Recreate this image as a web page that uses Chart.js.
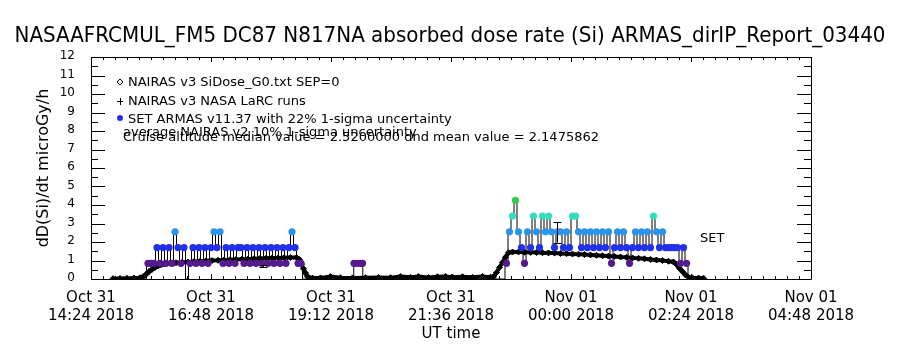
<!DOCTYPE html>
<html>
<head>
<meta charset="utf-8">
<script src="https://cdn.jsdelivr.net/npm/chart.js@4.4.1/dist/chart.umd.min.js"></script>
<style>
  html, body { margin: 0; padding: 0; background: #fff; }
</style>
</head>
<body>
<canvas id="doseChart" width="900" height="350"></canvas>
<script>
const titleText = 'NASAAFRCMUL_FM5 DC87 N817NA absorbed dose rate (Si) ARMAS_dirIP_Report_03440';

// x axis is hours since Oct 31 00:00 UT
const xTickValues = [14.4, 16.8, 19.2, 21.6, 24.0, 26.4, 28.8];
const xTickDates = ['Oct 31', 'Oct 31', 'Oct 31', 'Oct 31', 'Nov 01', 'Nov 01', 'Nov 01'];
const xTickTimes = ['14:24 2018', '16:48 2018', '19:12 2018', '21:36 2018', '00:00 2018', '02:24 2018', '04:48 2018'];

// NAIRAS v3 SiDose model (black diamonds)
const nairasTime = [
  14.84, 14.98, 15.12, 15.26, 15.38, 15.44, 15.50, 15.56, 15.62, 15.68, 15.74, 15.80, 15.86,
  15.98, 16.10, 16.22, 16.34, 16.46, 16.58, 16.70, 16.82, 16.94, 17.06, 17.18, 17.30, 17.42,
  17.54, 17.66, 17.78, 17.90, 18.02, 18.14, 18.26, 18.39, 18.51, 18.57, 18.61, 18.65, 18.69,
  18.73, 18.77, 18.83,
  18.99, 19.19, 19.39, 19.63, 19.89, 20.15, 20.39, 20.59, 20.79, 20.95, 21.15, 21.33, 21.49,
  21.63, 21.83, 22.03, 22.23, 22.39,
  22.45, 22.51, 22.57, 22.63, 22.69, 22.75, 22.83, 22.95, 23.07, 23.19, 23.31, 23.43, 23.55,
  23.67, 23.79, 23.91, 24.03, 24.15, 24.27, 24.39, 24.51, 24.63, 24.75, 24.87, 24.99, 25.11,
  25.23, 25.35, 25.47, 25.59, 25.71, 25.83, 25.95, 26.05, 26.11, 26.17, 26.23, 26.29, 26.35,
  26.43, 26.55, 26.65
];
const nairasDose = [
  0.02, 0.03, 0.04, 0.05, 0.07, 0.12, 0.25, 0.40, 0.52, 0.62, 0.70, 0.77, 0.82,
  0.86, 0.88, 0.90, 0.92, 0.94, 0.96, 0.98, 1.00, 1.01, 1.03, 1.04, 1.06, 1.07,
  1.08, 1.10, 1.11, 1.12, 1.13, 1.14, 1.15, 1.16, 1.16, 1.05, 0.80, 0.55, 0.32,
  0.14, 0.06, 0.05,
  0.06, 0.13, 0.07, 0.06, 0.07, 0.08, 0.07, 0.14, 0.09, 0.13, 0.08, 0.12, 0.14,
  0.10, 0.12, 0.09, 0.14, 0.10,
  0.12, 0.35, 0.62, 0.90, 1.18, 1.42, 1.46, 1.46, 1.45, 1.44, 1.43, 1.42, 1.41,
  1.40, 1.38, 1.37, 1.35, 1.34, 1.32, 1.30, 1.28, 1.26, 1.24, 1.22, 1.19, 1.17,
  1.14, 1.12, 1.09, 1.06, 1.03, 1.00, 0.96, 0.92, 0.78, 0.58, 0.40, 0.22, 0.10,
  0.06, 0.05, 0.04
];

// SET ARMAS measurements (coloured dots joined by a thin line)
const armasTime = [
  15.48, 15.54, 15.60, 15.66, 15.72, 15.78, 15.84, 15.90, 15.96, 16.02, 16.08, 16.14, 16.20,
  16.26, 16.32, 16.38, 16.44, 16.50, 16.56, 16.62, 16.68, 16.74, 16.80, 16.86, 16.92, 16.98,
  17.04, 17.10, 17.16, 17.22, 17.28, 17.34, 17.40, 17.46, 17.52, 17.58, 17.64, 17.70, 17.76,
  17.82, 17.88, 17.94, 18.00, 18.06, 18.12, 18.18, 18.24, 18.30, 18.36, 18.42, 18.48, 18.54,
  18.60, 18.66,
  19.65, 19.66, 19.72, 19.78, 19.83, 19.84,
  22.65, 22.71, 22.77, 22.83, 22.89, 22.95, 23.01, 23.07, 23.13, 23.19, 23.25, 23.31, 23.37,
  23.43, 23.49, 23.55, 23.61, 23.67, 23.73, 23.79, 23.85, 23.91, 23.97, 24.03, 24.09, 24.15,
  24.21, 24.27, 24.33, 24.39, 24.45, 24.51, 24.57, 24.63, 24.69, 24.75, 24.81, 24.87, 24.93,
  24.99, 25.05, 25.11, 25.17, 25.23, 25.29, 25.35, 25.41, 25.47, 25.53, 25.59, 25.65, 25.71,
  25.77, 25.83, 25.89, 25.95, 26.01, 26.07, 26.13, 26.19, 26.25, 26.31, 26.37
];
const armasDose = [
  0, 0.85, 0.85, 0.85, 1.7, 0.85, 1.7, 0.85, 1.7, 0.85, 2.55, 1.7, 0.85,
  1.7, 0, 0.85, 1.7, 0.85, 1.7, 0.85, 1.7, 0.85, 1.7, 2.55, 1.7, 2.55,
  0.85, 1.7, 0.85, 1.7, 0.85, 1.7, 1.7, 0.85, 1.7, 0.85, 1.7, 0.85, 1.7,
  0.85, 1.7, 0.85, 1.7, 0.85, 1.7, 0.85, 1.7, 0.85, 1.7, 2.55, 1.7, 0.85,
  0.85, 0,
  0, 0.85, 0.85, 0.85, 0.85, 0,
  0, 0.85, 2.55, 3.4, 4.25, 2.55, 1.7, 0.85, 2.55, 1.7, 3.4, 2.55, 1.7,
  3.4, 2.55, 3.4, 2.55, 1.7, 2.55, 2.55, 1.7, 2.55, 1.7, 3.4, 3.4, 2.55,
  1.7, 2.55, 1.7, 2.55, 1.7, 2.55, 1.7, 2.55, 1.7, 2.55, 0.85, 1.7, 2.55,
  1.7, 2.55, 1.7, 0.85, 1.7, 2.55, 1.7, 2.55, 1.7, 2.55, 1.7, 3.4, 2.55,
  1.7, 2.55, 1.7, 1.7, 1.7, 1.7, 1.7, 0.85, 1.7, 0.85, 0
];

// dose levels and the colour used for each
const doseLevels = [0.85, 1.7, 2.55, 3.4, 4.25];
const levelColors = ['#561a8e', '#2030ec', '#2a94ec', '#34dcc2', '#30cc4c'];

// error bars: time, centre, half width
const errTime = [17.84, 23.71];
const errMid = [0.70, 2.52];
const errHalf = [0.07, 0.55];

const legendLines = [
  'NAIRAS v3 SiDose_G0.txt SEP=0',
  'NAIRAS v3 NASA LaRC runs',
  'SET ARMAS v11.37 with 22% 1-sigma uncertainty',
  'average NAIRAS v2 10% 1-sigma uncertainty',
  'Cruise altitude median value = 2.5200000 dnd mean value = 2.1475862'
];

const fontFam = "'DejaVu Sans', sans-serif";
Chart.defaults.font.family = fontFam;
Chart.defaults.color = '#000';

function levelColor(v) {
  let best = 0;
  for (let i = 1; i < doseLevels.length; i++) {
    if (Math.abs(v - doseLevels[i]) < Math.abs(v - doseLevels[best])) best = i;
  }
  return levelColors[best];
}

// IDL style box with inward ticks, title, legend text and error bars
const idlFrame = {
  id: 'idlFrame',
  afterDraw(chart) {
    const {ctx, chartArea: a, scales: {x, y}} = chart;
    const px = v => Math.round(v) + 0.5;
    ctx.save();
    ctx.strokeStyle = '#000';
    ctx.lineWidth = 1;
    ctx.beginPath();
    ctx.rect(px(a.left), px(a.top), Math.round(a.right - a.left), Math.round(a.bottom - a.top));
    // x ticks, 10 minor per major
    const xStep = (xTickValues[1] - xTickValues[0]) / 10;
    for (let i = 0; i <= 60; i++) {
      const xp = px(x.getPixelForValue(xTickValues[0] + i * xStep));
      const len = i % 10 === 0 ? 5 : 3;
      ctx.moveTo(xp, a.bottom); ctx.lineTo(xp, a.bottom - len);
      ctx.moveTo(xp, a.top); ctx.lineTo(xp, a.top + len);
    }
    // y ticks, 1 minor per major
    for (let i = 0; i <= 24; i++) {
      const yp = px(y.getPixelForValue(i * 0.5));
      const len = i % 2 === 0 ? 14 : 7;
      ctx.moveTo(a.left, yp); ctx.lineTo(a.left + len, yp);
      ctx.moveTo(a.right, yp); ctx.lineTo(a.right - len, yp);
    }
    ctx.stroke();

    // error bars
    ctx.beginPath();
    errTime.forEach((t, i) => {
      const xp = px(x.getPixelForValue(t));
      const y1 = y.getPixelForValue(errMid[i] + errHalf[i]);
      const y2 = y.getPixelForValue(errMid[i] - errHalf[i]);
      ctx.moveTo(xp, y1); ctx.lineTo(xp, y2);
      ctx.moveTo(xp - 4, px(y1)); ctx.lineTo(xp + 4, px(y1));
      ctx.moveTo(xp - 4, px(y2)); ctx.lineTo(xp + 4, px(y2));
    });
    ctx.stroke();

    // title, squeezed to the reference width
    ctx.fillStyle = '#000';
    ctx.textAlign = 'center';
    ctx.textBaseline = 'middle';
    ctx.font = '22px ' + fontFam;
    ctx.fillText(titleText, chart.width / 2, 36, 871);

    // legend
    ctx.textAlign = 'left';
    ctx.textBaseline = 'alphabetic';
    ctx.font = '13px ' + fontFam;
    const lx = a.left + 37;
    ctx.fillText(legendLines[0], lx, 86);
    ctx.fillText(legendLines[1], lx, 105);
    ctx.fillText(legendLines[2], lx, 123);
    ctx.fillText(legendLines[3], lx - 5, 136);
    ctx.fillText(legendLines[4], lx - 5, 141);
    const sx = a.left + 29;
    ctx.beginPath();
    ctx.moveTo(sx, 79); ctx.lineTo(sx + 3, 82); ctx.lineTo(sx, 85); ctx.lineTo(sx - 3, 82); ctx.closePath();
    ctx.moveTo(sx - 3, 101.5); ctx.lineTo(sx + 3, 101.5);
    ctx.moveTo(sx + 0.5, 98); ctx.lineTo(sx + 0.5, 105);
    ctx.stroke();
    ctx.fillStyle = levelColors[1];
    ctx.beginPath();
    ctx.arc(sx, 118, 3, 0, Math.PI * 2);
    ctx.fill();

    // series label
    ctx.fillStyle = '#000';
    ctx.fillText('SET', x.getPixelForValue(26.58), y.getPixelForValue(2.0));
    ctx.restore();
  }
};

new Chart(document.getElementById('doseChart'), {
  type: 'line',
  data: {
    datasets: [
      {
        label: 'SET ARMAS',
        order: 0,
        data: armasTime.map((t, i) => ({x: t, y: armasDose[i]})),
        borderColor: '#000',
        borderWidth: 1,
        stepped: 'middle',
        pointRadius: c => (c.raw && c.raw.y > 0 ? 3.6 : 0),
        pointBackgroundColor: c => levelColor(c.raw ? c.raw.y : 0),
        pointBorderWidth: 0,
        pointHoverRadius: 0
      },
      {
        label: 'NAIRAS v3',
        order: 1,
        data: nairasTime.map((t, i) => ({x: t, y: nairasDose[i]})),
        borderColor: '#000',
        borderWidth: 4,
        tension: 0,
        pointStyle: 'rectRot',
        pointRadius: 3,
        pointBackgroundColor: '#000',
        pointBorderColor: '#000',
        pointBorderWidth: 1,
        pointHoverRadius: 0
      }
    ]
  },
  options: {
    responsive: false,
    animation: false,
    events: [],
    layout: { padding: { top: 57, right: 89 } },
    plugins: {
      legend: { display: false },
      tooltip: { enabled: false },
      title: { display: false }
    },
    scales: {
      x: {
        type: 'linear',
        min: xTickValues[0],
        max: xTickValues[xTickValues.length - 1],
        afterBuildTicks: s => { s.ticks = xTickValues.map(v => ({value: v})); },
        afterFit: s => { s.height = 71; },
        grid: { display: false, drawTicks: false },
        border: { display: false },
        ticks: {
          autoSkip: false,
          maxRotation: 0,
          padding: 10,
          font: { size: 15 },
          color: '#000',
          callback: (v, i) => [xTickDates[i], xTickTimes[i]]
        },
        title: { display: true, text: 'UT time', color: '#000', font: { size: 15 }, padding: { bottom: 7 } }
      },
      y: {
        min: 0,
        max: 12,
        afterFit: s => { s.width = 91; },
        grid: { display: false, drawTicks: false },
        border: { display: false },
        ticks: { stepSize: 1, padding: 16, labelOffset: -1, font: { size: 12 }, color: '#000' },
        title: { display: true, text: 'dD(Si)/dt microGy/h', color: '#000', font: { size: 16 }, padding: { top: 34 } }
      }
    }
  },
  plugins: [idlFrame]
});
</script>
</body>
</html>
